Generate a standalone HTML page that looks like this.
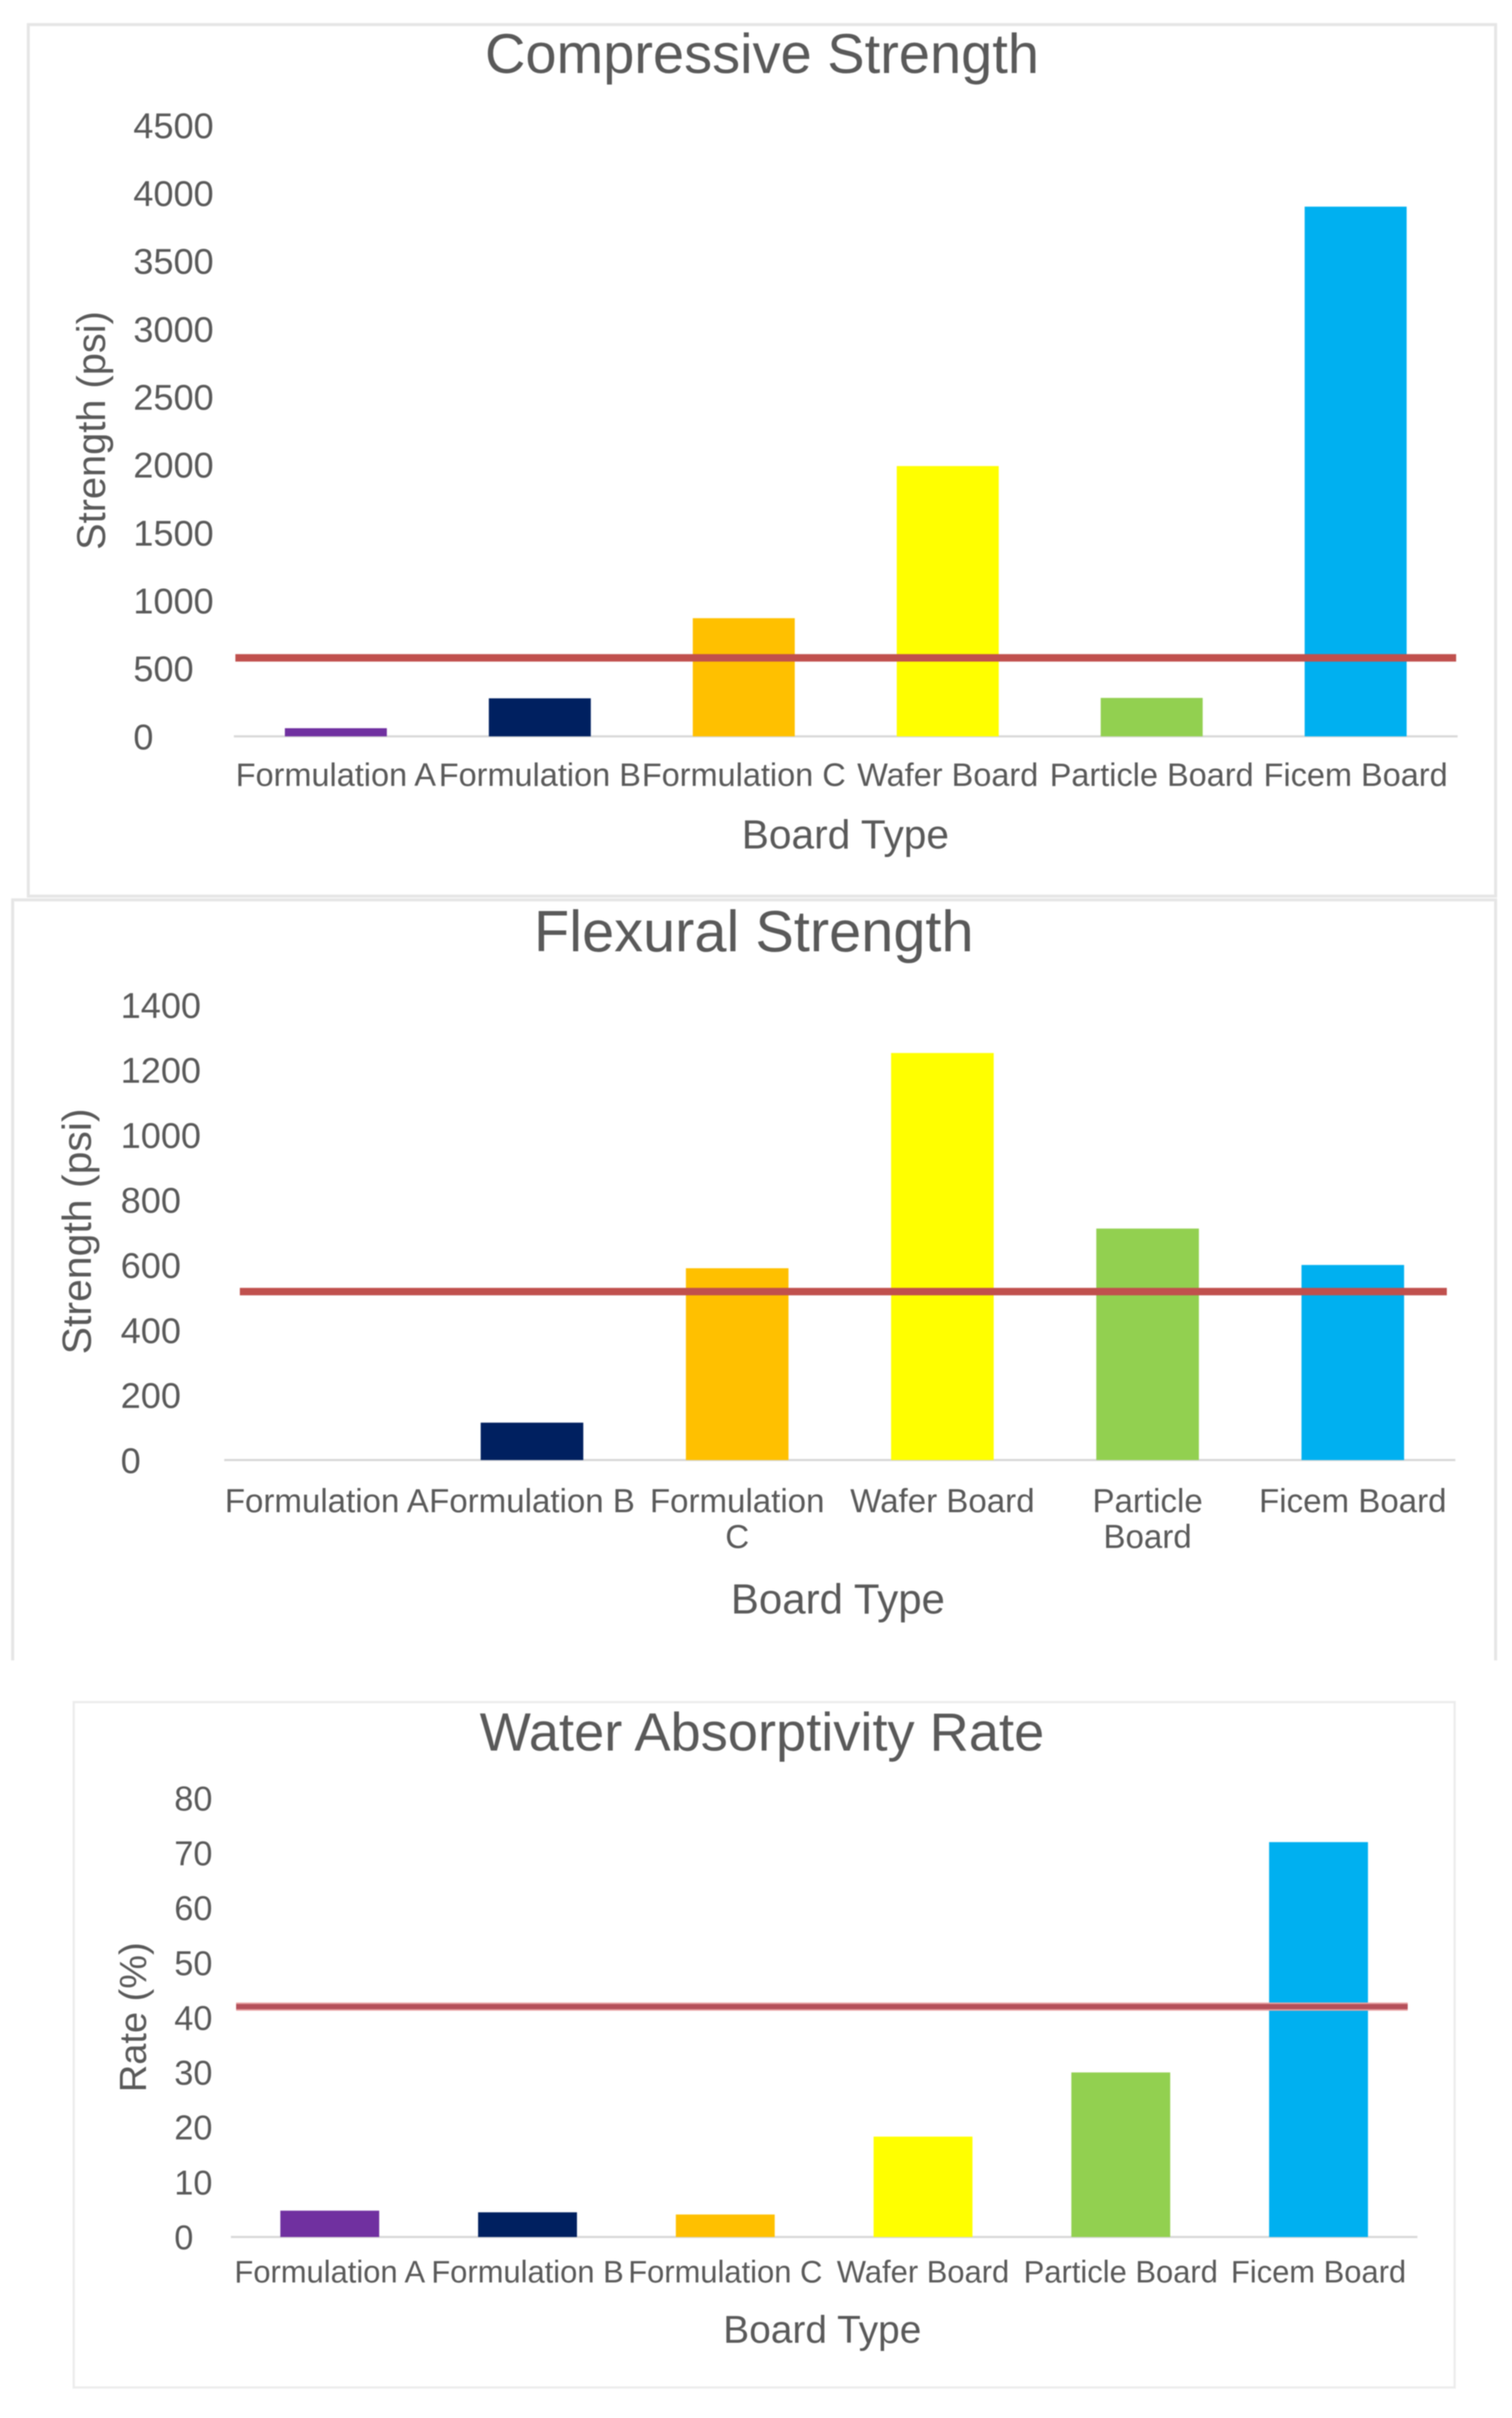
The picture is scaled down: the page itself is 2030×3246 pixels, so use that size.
<!DOCTYPE html>
<html lang="en">
<head>
<meta charset="utf-8">
<title>Board Comparison Charts</title>
<style>
  html, body { margin: 0; padding: 0; background: #ffffff; }
  svg { display: block; filter: blur(0.7px); }
  text { font-family: "Liberation Sans", Arial, sans-serif; fill: #595959; }
</style>
</head>
<body>
<svg id="figure" width="2030" height="3246" viewBox="0 0 2030 3246" xmlns="http://www.w3.org/2000/svg">
  <rect x="0" y="0" width="2030" height="3246" fill="#ffffff"/>

  <g id="compressive-chart">
    <rect x="38" y="33" width="1970" height="1170" fill="#ffffff" stroke="#e6e6e6" stroke-width="4"/>
    <text x="1023" y="98" font-size="75.2" text-anchor="middle">Compressive Strength</text>
    <text x="1135" y="1139" font-size="54.6" text-anchor="middle">Board Type</text>
    <text transform="translate(141 578) rotate(-90)" font-size="53.4" text-anchor="middle">Strength (psi)</text>
  </g>

  <g id="flexural-chart">
    <rect x="16" y="1208" width="1992" height="1021" fill="#ffffff"/>
    <path d="M17 2229 V1208 H2008 V2229" fill="none" stroke="#e6e6e6" stroke-width="4"/>
    <text x="1012" y="1277" font-size="77.5" text-anchor="middle">Flexural Strength</text>
    <text x="1125" y="2166" font-size="56.4" text-anchor="middle">Board Type</text>
    <text transform="translate(122 1653) rotate(-90)" font-size="55" text-anchor="middle">Strength (psi)</text>
  </g>

  <g id="absorption-chart">
    <rect x="99" y="2285" width="1854" height="920" fill="#ffffff" stroke="#ececec" stroke-width="3"/>
    <text x="1023" y="2350" font-size="72.8" text-anchor="middle">Water Absorptivity Rate</text>
    <text x="1104" y="3145" font-size="52.2" text-anchor="middle">Board Type</text>
    <text transform="translate(196 2708) rotate(-90)" font-size="51" text-anchor="middle">Rate (%)</text>
  </g>
</svg>

<script>
// ---- Chart data ----
const compressiveCategories = ["Formulation A", "Formulation B", "Formulation C", "Wafer Board", "Particle Board", "Ficem Board"];
const compressiveValues = [60, 280, 870, 1990, 283, 3900];
const compressiveThreshold = [578];
const compressiveTicks = [0, 500, 1000, 1500, 2000, 2500, 3000, 3500, 4000, 4500];

const flexuralCategories = ["Formulation A", "Formulation B", "Formulation\nC", "Wafer Board", "Particle\nBoard", "Ficem Board"];
const flexuralValues = [0, 115, 590, 1252, 712, 600];
const flexuralThreshold = [518];
const flexuralTicks = [0, 200, 400, 600, 800, 1000, 1200, 1400];

const absorptionCategories = ["Formulation A", "Formulation B", "Formulation C", "Wafer Board", "Particle Board", "Ficem Board"];
const absorptionValues = [4.8, 4.5, 4.1, 18.3, 30, 72];
const absorptionThreshold = [42];
const absorptionTicks = [0, 10, 20, 30, 40, 50, 60, 70, 80];

const barPalette = ["#7030A0", "#002060", "#FFC000", "#FFFF00", "#92D050", "#00B0F0"];

// ---- Renderer ----
const SVG_NS = "http://www.w3.org/2000/svg";

function make(parent, tag, props) {
  const el = document.createElementNS(SVG_NS, tag);
  for (const key in props) el.setAttribute(key, props[key]);
  parent.appendChild(el);
  return el;
}

function drawChart(opts) {
  const root = document.getElementById(opts.id);
  const maxTick = Math.max.apply(null, opts.ticks);
  const yOf = function (v) {
    return opts.baseY - (v / maxTick) * (opts.baseY - opts.topY);
  };
  const slot = (opts.x1 - opts.x0) / opts.categories.length;
  const xOf = function (i) {
    return opts.x0 + slot * (i + 0.5);
  };

  opts.ticks.forEach(function (t) {
    const label = make(root, "text", {
      x: opts.tickX,
      y: yOf(t) + opts.tickFont * 0.358,
      "font-size": opts.tickFont
    });
    
    
    label.textContent = String(t);
  });

  const axis = make(root, "line", {
    x1: opts.x0, x2: opts.x1, y1: opts.baseY, y2: opts.baseY,
    stroke: "#d9d9d9", "stroke-width": 3
  });
  
  

  opts.values.forEach(function (v, i) {
    const w = slot / 2;
    if (v > 0) {
      const bar = make(root, "rect", {
        x: xOf(i) - w / 2,
        y: yOf(v),
        width: w,
        height: opts.baseY - yOf(v),
        fill: barPalette[i]
      });
      
      
    }
  });

  opts.categories.forEach(function (c, i) {
    const label = make(root, "text", {
      x: xOf(i),
      y: opts.catY,
      "font-size": opts.catFont,
      "text-anchor": "middle"
    });
    
    
    c.split("\n").forEach(function (part, n) {
      const span = make(label, "tspan", { x: xOf(i), dy: n === 0 ? 0 : opts.catLine });
      span.textContent = part;
    });
  });

  if (opts.halo) {
    const halo = make(root, "line", {
      x1: opts.lineX0, x2: opts.lineX1,
      y1: yOf(opts.threshold[0]), y2: yOf(opts.threshold[0]),
      stroke: opts.halo, "stroke-width": opts.lineWidth + 4
    });
    
    
  }
  const line = make(root, "line", {
    x1: opts.lineX0, x2: opts.lineX1,
    y1: yOf(opts.threshold[0]), y2: yOf(opts.threshold[0]),
    stroke: opts.lineColor, "stroke-width": opts.lineWidth
  });
  
  
}

drawChart({
  id: "compressive-chart", prefix: "compressive",
  categories: compressiveCategories, values: compressiveValues,
  threshold: compressiveThreshold, ticks: compressiveTicks,
  x0: 314, x1: 1957, baseY: 988.5, topY: 168,
  tickX: 179, tickFont: 48.5,
  catY: 1055, catFont: 43.6, catLine: 48,
  lineX0: 316, lineX1: 1955, lineWidth: 10, lineColor: "#C0504D"
});

drawChart({
  id: "flexural-chart", prefix: "flexural",
  categories: flexuralCategories, values: flexuralValues,
  threshold: flexuralThreshold, ticks: flexuralTicks,
  x0: 301, x1: 1954, baseY: 1960, topY: 1349,
  tickX: 162, tickFont: 48.5,
  catY: 2030, catFont: 44.4, catLine: 48,
  lineX0: 322, lineX1: 1942.5, lineWidth: 10, lineColor: "#C0504D"
});

drawChart({
  id: "absorption-chart", prefix: "absorption",
  categories: absorptionCategories, values: absorptionValues,
  threshold: absorptionThreshold, ticks: absorptionTicks,
  x0: 310, x1: 1903, baseY: 3003, topY: 2414,
  tickX: 234, tickFont: 46,
  catY: 3064, catFont: 41.5, catLine: 46,
  lineX0: 317, lineX1: 1890, lineWidth: 7, lineColor: "#B5505A", halo: "#E9A3A3"
});
</script>
</body>
</html>
